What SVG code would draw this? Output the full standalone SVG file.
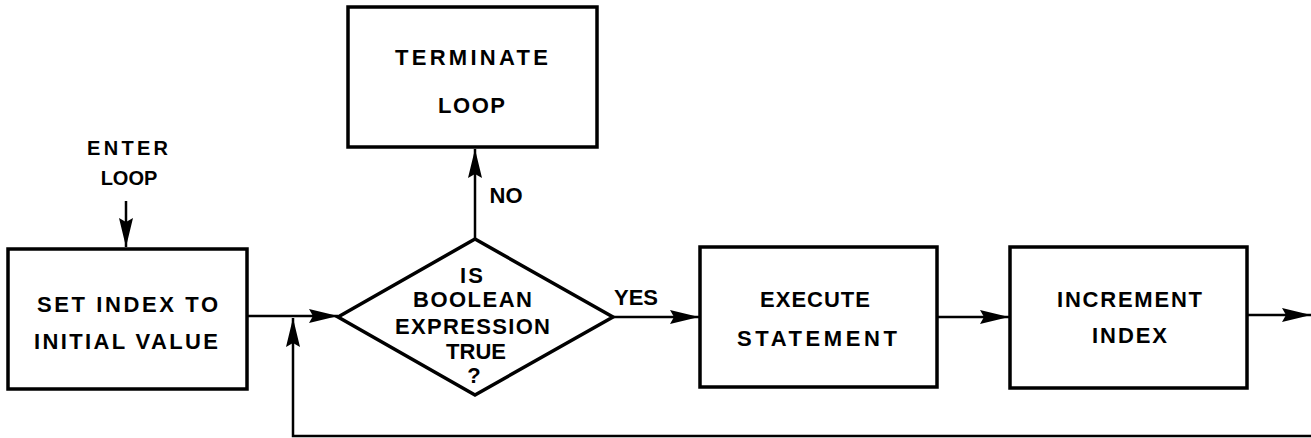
<svg xmlns="http://www.w3.org/2000/svg" width="1311" height="438" viewBox="0 0 1311 438">
  <style>
    .box { fill: #fff; stroke: #000; stroke-width: 3.5; }
    .wire { fill: none; stroke: #000; stroke-width: 2.5; }
    .lbl { font-family: "Liberation Sans", Arial, sans-serif; font-weight: bold; font-size: 22px; fill: #000; text-anchor: middle; }
    .small { font-size: 20px; }
  </style>
  <defs>
    <marker id="arrow" markerUnits="userSpaceOnUse" markerWidth="32" markerHeight="16" refX="29" refY="7" orient="auto">
      <path d="M0,0 L29,7 L0,14 L4,7 z" fill="#000"/>
    </marker>
  </defs>
  <rect width="1311" height="438" fill="#fff"/>

  <!-- connectors -->
  <g id="connectors">
    <line class="wire" x1="126" y1="201" x2="126" y2="247" marker-end="url(#arrow)"/>
    <line class="wire" x1="247" y1="316" x2="338" y2="316" marker-end="url(#arrow)"/>
    <polyline class="wire" points="1311,436 293,436 293,318" marker-end="url(#arrow)"/>
    <line class="wire" x1="475" y1="239" x2="475" y2="149" marker-end="url(#arrow)"/>
    <line class="wire" x1="613" y1="317" x2="699" y2="317" marker-end="url(#arrow)"/>
    <line class="wire" x1="937" y1="317" x2="1009" y2="317" marker-end="url(#arrow)"/>
    <line class="wire" x1="1247" y1="315" x2="1311" y2="315" marker-end="url(#arrow)"/>
    <text class="lbl small" x="127.5" y="155" textLength="81" lengthAdjust="spacing">ENTER</text>
    <text class="lbl small" x="129" y="185">LOOP</text>
    <text class="lbl" x="506" y="203">NO</text>
    <text class="lbl" x="636" y="305">YES</text>
  </g>

  <!-- set index -->
  <g id="set-index">
    <rect class="box" x="8" y="249" width="239" height="140"/>
    <text class="lbl" x="127.5" y="312" textLength="181" lengthAdjust="spacing">SET INDEX TO</text>
    <text class="lbl" x="126" y="349" textLength="184" lengthAdjust="spacing">INITIAL VALUE</text>
  </g>

  <!-- decision -->
  <g id="test">
    <polygon class="box" points="338,317 475,239 613,317 475,395"/>
    <text class="lbl" x="471.5" y="283" textLength="23" lengthAdjust="spacing">IS</text>
    <text class="lbl" x="472.5" y="307" textLength="119" lengthAdjust="spacing">BOOLEAN</text>
    <text class="lbl" x="472.5" y="334" textLength="155" lengthAdjust="spacing">EXPRESSION</text>
    <text class="lbl" x="476" y="359" textLength="60" lengthAdjust="spacing">TRUE</text>
    <text class="lbl" x="474" y="383">?</text>
  </g>

  <!-- terminate -->
  <g id="terminate">
    <rect class="box" x="348" y="7" width="249" height="140"/>
    <text class="lbl" x="471.5" y="65" textLength="153" lengthAdjust="spacing">TERMINATE</text>
    <text class="lbl" x="471.5" y="113" textLength="67" lengthAdjust="spacing">LOOP</text>
  </g>

  <!-- execute -->
  <g id="execute">
    <rect class="box" x="700" y="247" width="237" height="140"/>
    <text class="lbl" x="815" y="307" textLength="110" lengthAdjust="spacing">EXECUTE</text>
    <text class="lbl" x="817" y="346" textLength="160" lengthAdjust="spacing">STATEMENT</text>
  </g>

  <!-- increment -->
  <g id="increment">
    <rect class="box" x="1010" y="247" width="237" height="141"/>
    <text class="lbl" x="1129.5" y="307" textLength="145" lengthAdjust="spacing">INCREMENT</text>
    <text class="lbl" x="1129.5" y="343" textLength="75" lengthAdjust="spacing">INDEX</text>
  </g>
</svg>
